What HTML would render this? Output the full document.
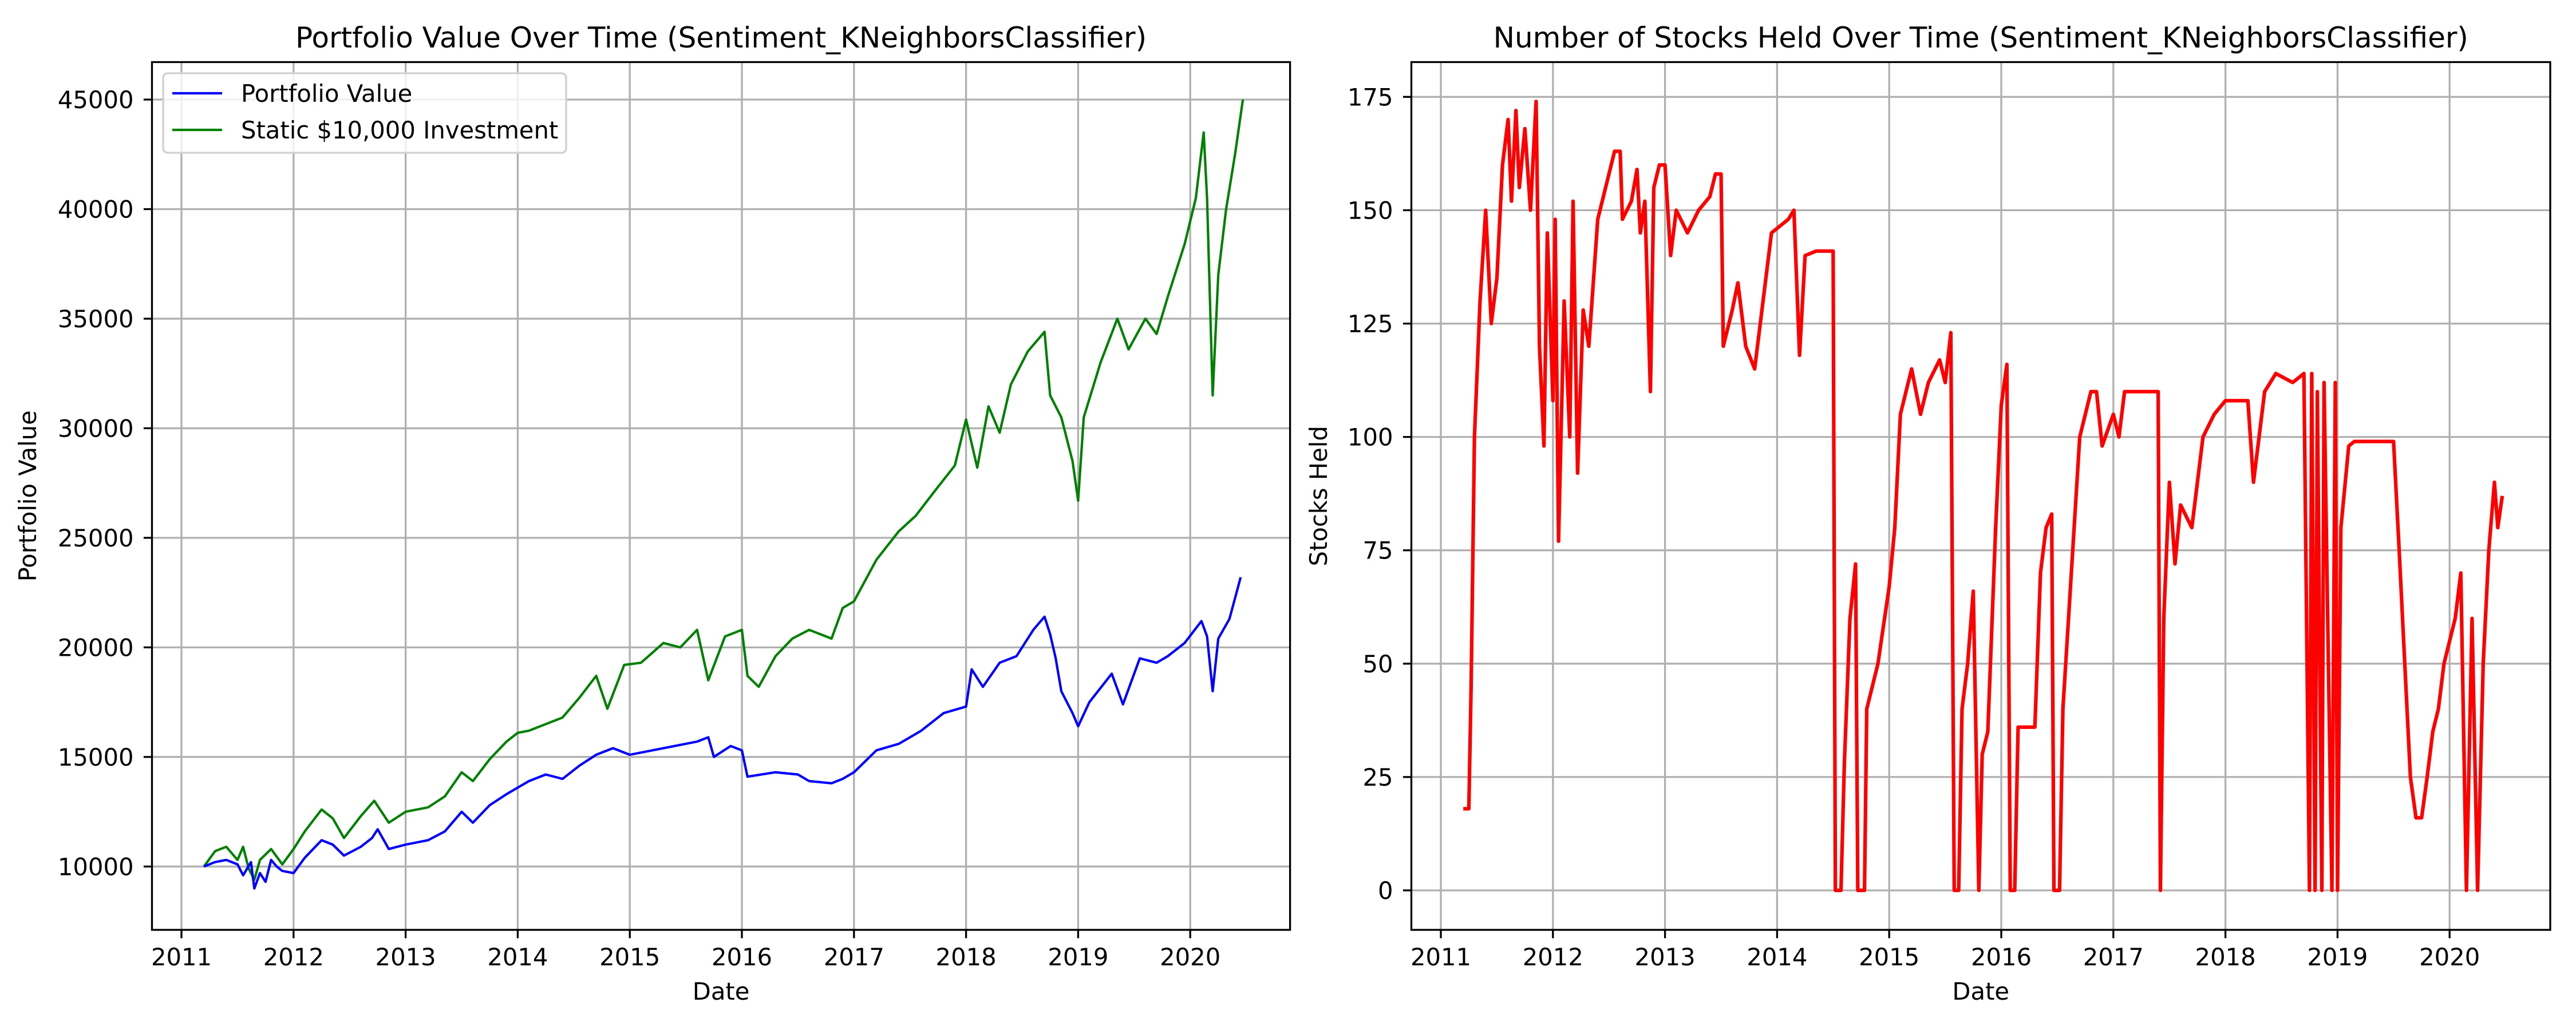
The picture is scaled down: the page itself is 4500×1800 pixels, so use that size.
<!DOCTYPE html>
<html><head><meta charset="utf-8"><style>
html,body{margin:0;padding:0;background:#fff;}
svg{display:block;font-family:"DejaVu Sans","Liberation Sans",sans-serif;}
</style></head><body>
<svg id="chart" width="4500" height="1800" viewBox="0 0 4500 1800" xmlns="http://www.w3.org/2000/svg">
<rect width="4500" height="1800" fill="#fff"/>
<g id="left"></g>
<g id="right"></g>
</svg>
<script>
const yearTicks = [2011,2012,2013,2014,2015,2016,2017,2018,2019,2020];
const leftYTicks = [10000,15000,20000,25000,30000,35000,40000,45000];
const rightYTicks = [0,25,50,75,100,125,150,175];
const pvDates = [2011.2,2011.3,2011.4,2011.5,2011.55,2011.62,2011.65,2011.7,2011.75,2011.8,2011.85,2011.9,2012.0,2012.1,2012.25,2012.35,2012.45,2012.6,2012.7,2012.75,2012.85,2013.0,2013.2,2013.35,2013.5,2013.6,2013.75,2013.9,2014.0,2014.1,2014.25,2014.4,2014.55,2014.7,2014.85,2015.0,2015.2,2015.4,2015.6,2015.7,2015.75,2015.9,2016.0,2016.05,2016.3,2016.5,2016.6,2016.8,2016.9,2017.0,2017.2,2017.4,2017.6,2017.8,2018.0,2018.05,2018.15,2018.3,2018.45,2018.6,2018.7,2018.75,2018.8,2018.85,2018.95,2019.0,2019.1,2019.3,2019.4,2019.55,2019.7,2019.8,2019.95,2020.1,2020.15,2020.2,2020.25,2020.35,2020.45];
const pvValues = [10000,10200,10300,10100,9600,10200,9000,9700,9300,10300,10000,9800,9700,10400,11200,11000,10500,10900,11300,11700,10800,11000,11200,11600,12500,12000,12800,13300,13600,13900,14200,14000,14600,15100,15400,15100,15300,15500,15700,15900,15000,15500,15300,14100,14300,14200,13900,13800,14000,14300,15300,15600,16200,17000,17300,19000,18200,19300,19600,20800,21400,20600,19500,18000,17000,16400,17500,18800,17400,19500,19300,19600,20200,21200,20500,18000,20400,21300,23200];
const stDates = [2011.2,2011.3,2011.4,2011.5,2011.55,2011.6,2011.65,2011.7,2011.8,2011.9,2012.0,2012.1,2012.25,2012.35,2012.45,2012.6,2012.72,2012.85,2013.0,2013.2,2013.35,2013.5,2013.6,2013.75,2013.9,2014.0,2014.1,2014.25,2014.4,2014.55,2014.7,2014.8,2014.95,2015.1,2015.3,2015.45,2015.6,2015.7,2015.85,2016.0,2016.05,2016.15,2016.3,2016.45,2016.6,2016.8,2016.9,2017.0,2017.2,2017.4,2017.55,2017.7,2017.9,2018.0,2018.1,2018.2,2018.3,2018.4,2018.55,2018.7,2018.75,2018.85,2018.95,2019.0,2019.05,2019.2,2019.35,2019.45,2019.6,2019.7,2019.8,2019.95,2020.05,2020.12,2020.15,2020.2,2020.25,2020.32,2020.4,2020.47];
const stValues = [10000,10700,10900,10300,10900,9900,9400,10300,10800,10100,10800,11600,12600,12200,11300,12300,13000,12000,12500,12700,13200,14300,13900,14900,15700,16100,16200,16500,16800,17700,18700,17200,19200,19300,20200,20000,20800,18500,20500,20800,18700,18200,19600,20400,20800,20400,21800,22100,24000,25300,26000,27000,28300,30400,28200,31000,29800,32000,33500,34400,31500,30500,28500,26700,30500,33000,35000,33600,35000,34300,36000,38400,40500,43500,40500,31500,37000,40000,42500,45000];
const shDates = [2011.2,2011.25,2011.27,2011.3,2011.35,2011.4,2011.45,2011.5,2011.55,2011.6,2011.63,2011.67,2011.7,2011.75,2011.8,2011.85,2011.88,2011.92,2011.95,2012.0,2012.02,2012.05,2012.1,2012.15,2012.18,2012.22,2012.27,2012.32,2012.4,2012.5,2012.55,2012.6,2012.62,2012.7,2012.75,2012.78,2012.82,2012.87,2012.9,2012.95,2013.0,2013.05,2013.1,2013.2,2013.3,2013.4,2013.45,2013.5,2013.52,2013.6,2013.65,2013.72,2013.8,2013.85,2013.95,2014.1,2014.15,2014.2,2014.25,2014.35,2014.5,2014.52,2014.57,2014.6,2014.65,2014.7,2014.72,2014.78,2014.8,2014.9,2015.0,2015.05,2015.1,2015.15,2015.2,2015.28,2015.35,2015.45,2015.5,2015.55,2015.58,2015.62,2015.65,2015.7,2015.75,2015.8,2015.83,2015.88,2015.95,2016.0,2016.05,2016.08,2016.12,2016.15,2016.3,2016.35,2016.4,2016.45,2016.47,2016.52,2016.55,2016.6,2016.7,2016.8,2016.85,2016.9,2017.0,2017.05,2017.1,2017.4,2017.42,2017.45,2017.5,2017.55,2017.6,2017.7,2017.8,2017.9,2018.0,2018.2,2018.25,2018.35,2018.45,2018.6,2018.7,2018.75,2018.77,2018.8,2018.82,2018.86,2018.88,2018.95,2018.98,2019.0,2019.03,2019.1,2019.15,2019.5,2019.55,2019.6,2019.65,2019.7,2019.75,2019.8,2019.85,2019.9,2019.95,2020.05,2020.1,2020.15,2020.2,2020.25,2020.3,2020.35,2020.4,2020.43,2020.47];
const shValues = [18,18,45,100,130,150,125,135,160,170,152,172,155,168,150,174,120,98,145,108,148,77,130,100,152,92,128,120,148,158,163,163,148,152,159,145,152,110,155,160,160,140,150,145,150,153,158,158,120,128,134,120,115,125,145,148,150,118,140,141,141,0,0,28,60,72,0,0,40,50,67,80,105,110,115,105,112,117,112,123,0,0,40,50,66,0,30,35,80,107,116,0,0,36,36,70,80,83,0,0,40,60,100,110,110,98,105,100,110,110,0,60,90,72,85,80,100,105,108,108,90,110,114,112,114,0,114,0,110,0,112,0,112,0,80,98,99,99,75,50,25,16,16,25,35,40,50,60,70,0,60,0,50,75,90,80,87];

const NS='http://www.w3.org/2000/svg';
function mk(parent, tag, attrs, text){
  const e=document.createElementNS(NS,tag);
  for(const k in attrs) e.setAttribute(k, attrs[k]);
  if(text!==undefined) e.textContent=text;
  parent.appendChild(e); return e;
}
function panel(g, box, yTicks, yMin, yMax, yPixMin, yPixMax){
  const x2011 = box.x0 + 51.5, perYear = 195.8;
  const sx = d => x2011 + (d-2011)*perYear;
  const sy = v => yPixMin + (v-yMin)/(yMax-yMin)*(yPixMax-yPixMin);
  yearTicks.forEach(t=>{
    const l=mk(g,'line',{x1:sx(t),x2:sx(t),y1:box.y0,y2:box.y1,stroke:'#b0b0b0','stroke-width':3.3});
    
    
  });
  yTicks.forEach(t=>{
    const l=mk(g,'line',{x1:box.x0,x2:box.x1,y1:sy(t),y2:sy(t),stroke:'#b0b0b0','stroke-width':3.3});
    
    
  });
  return {sx,sy};
}
function frame(g, box, sx, sy, yTicks, title, ylabel, ylx){
  const r=mk(g,'rect',{x:box.x0,y:box.y0,width:box.x1-box.x0,height:box.y1-box.y0,fill:'none',stroke:'#000','stroke-width':3.3});
  
  
  yearTicks.forEach(t=>{
    mk(g,'line',{x1:sx(t),x2:sx(t),y1:box.y1,y2:box.y1+14.6,stroke:'#000','stroke-width':3.3});
    const tx=mk(g,'text',{x:sx(t),y:1687,'font-size':41.7,'text-anchor':'middle',fill:'#000'},String(t));
    
    
  });
  yTicks.forEach(t=>{
    mk(g,'line',{x1:box.x0-14.6,x2:box.x0,y1:sy(t),y2:sy(t),stroke:'#000','stroke-width':3.3});
    const tx=mk(g,'text',{x:box.x0-32,y:sy(t)+15,'font-size':41.7,'text-anchor':'end',fill:'#000'},String(t));
    
    
  });
  const cx=(box.x0+box.x1)/2;
  const tt=mk(g,'text',{x:cx,y:83,'font-size':50,'text-anchor':'middle',fill:'#000'},title);
  
  
  const xl=mk(g,'text',{x:cx,y:1747,'font-size':41.7,'text-anchor':'middle',fill:'#000'},'Date');
  
  
  const cy=(box.y0+box.y1)/2;
  const yl=mk(g,'text',{x:ylx,y:cy,'font-size':41.7,'text-anchor':'middle',fill:'#000',transform:`rotate(-90 ${ylx} ${cy})`},ylabel);
  
  
}
function line(g, dates, vals, sx, sy, color, w, name){
  const d=dates.map((t,i)=>(i?'L':'M')+sx(t).toFixed(1)+' '+sy(vals[i]).toFixed(1)).join(' ');
  const p=mk(g,'path',{d,fill:'none',stroke:color,'stroke-width':w,'stroke-linejoin':'round'});
  
  
}
const L=document.getElementById('left');
const lbox={x0:265.5,x1:2253.6,y0:108.5,y1:1625};
const la=panel(L,lbox,leftYTicks,10000,45000,1514.3,174.0);
line(L,stDates,stValues,la.sx,la.sy,'#008000',4.2,'static-investment-line');
line(L,pvDates,pvValues,la.sx,la.sy,'#0000ff',4.2,'portfolio-value-line');
frame(L,lbox,la.sx,la.sy,leftYTicks,'Portfolio Value Over Time (Sentiment_KNeighborsClassifier)','Portfolio Value',63);
const lg=mk(L,'g',{});


mk(lg,'rect',{x:285,y:128,width:704,height:139,rx:8,fill:'#fff','fill-opacity':0.8,stroke:'#d0d0d0','stroke-width':3.3});
mk(lg,'line',{x1:301,x2:388,y1:163,y2:163,stroke:'#0000ff','stroke-width':4.2});
const e1=mk(lg,'text',{x:421,y:178,'font-size':41.7,fill:'#000'},'Portfolio Value');


mk(lg,'line',{x1:301,x2:388,y1:227,y2:227,stroke:'#008000','stroke-width':4.2});
const e2=mk(lg,'text',{x:421,y:242,'font-size':41.7,fill:'#000'},'Static $10,000 Investment');


const R=document.getElementById('right');
const rbox={x0:2465.5,x1:4455,y0:108.5,y1:1625};
const ra=panel(R,rbox,rightYTicks,0,175,1556,169.3);
line(R,shDates,shValues,ra.sx,ra.sy,'#ff0000',6.25,'stocks-held-line');
frame(R,rbox,ra.sx,ra.sy,rightYTicks,'Number of Stocks Held Over Time (Sentiment_KNeighborsClassifier)','Stocks Held',2318);
</script>
</body></html>
